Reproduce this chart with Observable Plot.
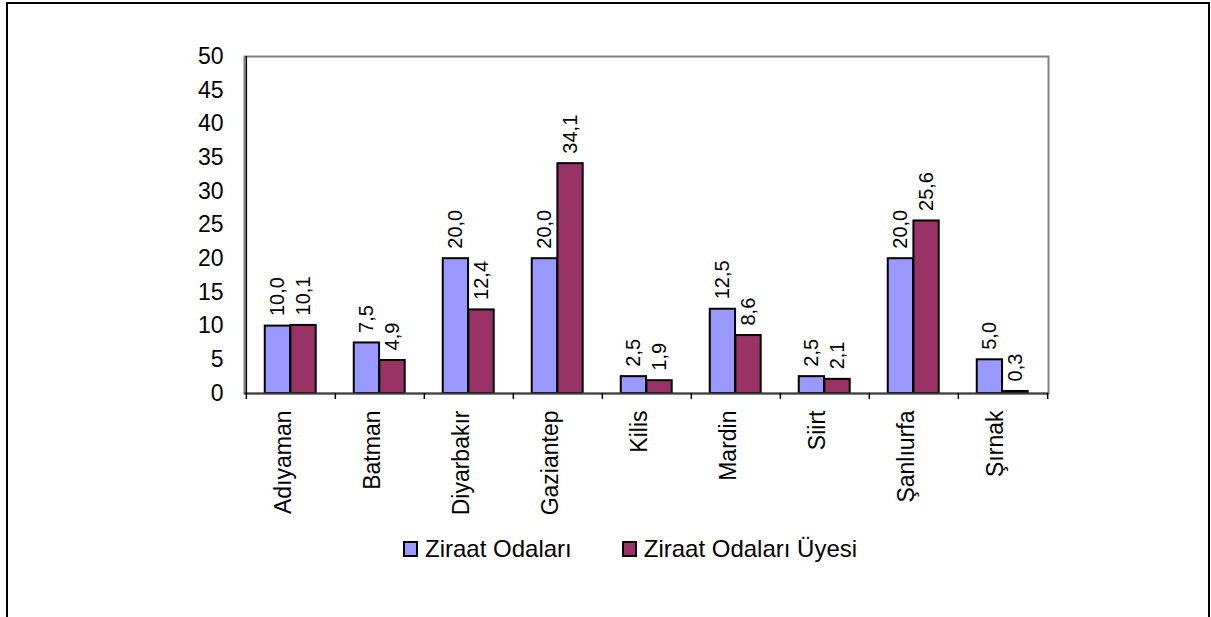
<!DOCTYPE html>
<html>
<head>
<meta charset="utf-8">
<script src="https://cdn.jsdelivr.net/npm/d3@7"></script>
<script src="https://cdn.jsdelivr.net/npm/@observablehq/plot@0.6"></script>
<style>
  html, body { margin: 0; padding: 0; background: #fff; overflow: hidden; }
  #wrap { position: relative; width: 1211px; height: 617px; font-family: "Liberation Sans", Arial, sans-serif; }
  #border { position: absolute; left: 6px; top: 2px; width: 1204px; height: 700px; box-sizing: border-box; border: 2px solid #000; pointer-events: none; }
  #chart { position: absolute; left: 0; top: 0; }
  #legend { position: absolute; left: 403px; top: 535px; display: flex; align-items: center; font-size: 24px; color: #000; }
  .item { display: flex; align-items: center; margin-right: 50px; }
  .sw { width: 11px; height: 12px; border: 2px solid #000; margin-right: 7px; }
</style>
</head>
<body>
<div id="wrap">
  <div id="chart"></div>
  <div id="legend"></div>
  <div id="border"></div>
</div>
<script>
const regions = ["Adıyaman", "Batman", "Diyarbakır", "Gaziantep", "Kilis", "Mardin", "Siirt", "Şanlıurfa", "Şırnak"];
const ziraatOdalari = [10.0, 7.5, 20.0, 20.0, 2.5, 12.5, 2.5, 20.0, 5.0];
const ziraatOdalariUyesi = [10.1, 4.9, 12.4, 34.1, 1.9, 8.6, 2.1, 25.6, 0.3];
const seriesNames = ["Ziraat Odaları", "Ziraat Odaları Üyesi"];
const seriesColors = ["#9999FF", "#993366"];
const yTicks = [0, 5, 10, 15, 20, 25, 30, 35, 40, 45, 50];

const W = 1211, H = 617;
const mL = 244, mR = 163, mT = 56, mB = 224;
const step = (W - mL - mR) / regions.length;
const pad = step * 0.21;
const barW = step * 0.287;

const rows = regions.map((r, i) => ({region: r, a: ziraatOdalari[i], b: ziraatOdalariUyesi[i]}));
const fmt = v => v.toFixed(1).replace(".", ",");

const chart = Plot.plot({
  width: W,
  height: H,
  marginLeft: mL,
  marginRight: mR,
  marginTop: mT,
  marginBottom: mB,
  style: {fontFamily: "'Liberation Sans', Arial, sans-serif", color: "#000", background: "transparent"},
  x: {type: "band", domain: regions, padding: 0, axis: null},
  y: {domain: [0, 50], axis: null},
  marks: [
    Plot.frame({stroke: "#808080", strokeWidth: 2}),
    Plot.barY(rows, {x: "region", y: "a", fill: seriesColors[0], stroke: "#000", strokeWidth: 2,
      insetLeft: pad, insetRight: step - pad - barW}),
    Plot.barY(rows, {x: "region", y: "b", fill: seriesColors[1], stroke: "#000", strokeWidth: 2,
      insetLeft: pad + barW, insetRight: step - pad - 2 * barW}),
    Plot.ruleY([0], {stroke: "#404040", strokeWidth: 2}),
    Plot.ruleX([regions[0]], {dx: -step / 2, stroke: "#000", strokeWidth: 1.5}),
    Plot.ruleX(regions, {x: d => d, y1: 0, y2: 0, dx: -step / 2, insetBottom: -6, stroke: "#000", strokeWidth: 1.5}),
    Plot.ruleX([regions[regions.length - 1]], {x: d => d, y1: 0, y2: 0, dx: step / 2, insetBottom: -6, stroke: "#000", strokeWidth: 1.5}),
    Plot.ruleY(yTicks, {y: d => d, x1: regions[0], x2: regions[0], dx: -step / 2, insetLeft: -7, stroke: "#000", strokeWidth: 1.5}),
    Plot.axisY({ticks: yTicks, tickSize: 0, tickPadding: 21, fontSize: 23, tickFormat: d => String(d)}),
    Plot.text(regions, {x: d => d, frameAnchor: "bottom", dy: 17, rotate: -90, textAnchor: "end", fontSize: 23, fill: "#000"}),
    Plot.text(rows, {x: "region", y: "a", text: d => fmt(d.a), dx: pad + barW / 2 - step / 2, dy: -10,
      rotate: -90, textAnchor: "start", fontSize: 20, fill: "#000"}),
    Plot.text(rows, {x: "region", y: "b", text: d => fmt(d.b), dx: pad + 1.5 * barW - step / 2, dy: -10,
      rotate: -90, textAnchor: "start", fontSize: 20, fill: "#000"})
  ]
});
document.getElementById("chart").appendChild(chart);

const legend = document.getElementById("legend");
seriesNames.forEach((name, i) => {
  const item = document.createElement("div");
  item.className = "item";
  const sw = document.createElement("div");
  sw.className = "sw";
  sw.style.background = seriesColors[i];
  const t = document.createElement("span");
  t.textContent = name;
  item.appendChild(sw);
  item.appendChild(t);
  legend.appendChild(item);
});
</script>
</body>
</html>
